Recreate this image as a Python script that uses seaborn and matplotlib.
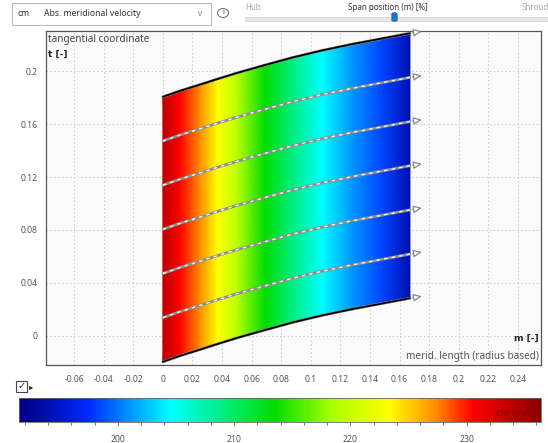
import numpy as np
import pandas as pd
import matplotlib
matplotlib.use("Agg")
import matplotlib.pyplot as plt
import matplotlib.patches as mpatches
from matplotlib.colors import LinearSegmentedColormap, Normalize
from matplotlib.ticker import FuncFormatter, MultipleLocator
import seaborn as sns

# ---------------- data ----------------
# meridional stations
m_st = [0.0, 0.0115, 0.025, 0.037, 0.05, 0.069, 0.088, 0.1075, 0.128, 0.149, 0.167]
# absolute meridional velocity cm [m/s] at each station
cm_st = [234.0, 230.6, 227.4, 223.4, 219.5, 213.5, 209.0, 204.5, 201.0, 198.2, 193.8]
# tangential coordinate of upper wall at each station
t_upper = [0.1805, 0.1850, 0.1897, 0.1940, 0.1985, 0.2045, 0.2103, 0.2155, 0.2203, 0.2247, 0.2285]
pitch = 0.2
n_streamlines = 7
# exit arrow position
m_exit = 0.177
t_exit_rise = 0.0018

x_ticks = [-0.06, -0.04, -0.02, 0, 0.02, 0.04, 0.06, 0.08, 0.1, 0.12, 0.14, 0.16, 0.18, 0.2, 0.22, 0.24]
y_ticks = [0, 0.04, 0.08, 0.12, 0.16, 0.2]
cbar_ticks = [200, 210, 220, 230]
cm_min, cm_max = 191.5, 236.4

# colormap
cmap_pos = [0.0, 0.13, 0.29, 0.49, 0.60, 0.71, 0.80, 0.87, 1.0]
cmap_col = ["#00007f", "#0028ff", "#00ffff", "#00dd00", "#aaff00", "#ffff00", "#ff8c00", "#ff0000", "#8c0000"]

# ---------------- style ----------------
sns.set_style("white")
plt.rcParams["font.family"] = ["Noto Sans", "DejaVu Sans"]

W, H = 548, 443
fig = plt.figure(figsize=(W / 100, H / 100), dpi=100)
fig.patch.set_facecolor("white")


def fx(x):
    return x / W


def fy(y):
    return 1 - y / H


cmap = LinearSegmentedColormap.from_list("cfx", list(zip(cmap_pos, cmap_col)))
norm = Normalize(vmin=cm_min, vmax=cm_max)

# ---------------- main axes ----------------
ax = fig.add_axes([fx(46), fy(365), fx(541) - fx(46), fy(31) - fy(365)])
ax.set_facecolor("#fbfbfb")
ax.set_xlim(-0.079, 0.2556)
ax.set_ylim(-0.0219, 0.2302)

m_arr = np.array(m_st)
t_up = np.array(t_upper)
X = np.vstack([m_arr, m_arr])
Y = np.vstack([t_up - pitch, t_up])
C = np.vstack([cm_st, cm_st])
mesh = ax.pcolormesh(X, Y, C, cmap=cmap, norm=norm, shading="gouraud", zorder=2)

# streamlines
for k in range(n_streamlines):
    tk = t_up - k * pitch / (n_streamlines - 1)
    df = pd.DataFrame({"m": m_st, "t": tk})
    sns.lineplot(data=df, x="m", y="t", ax=ax, sort=False, estimator=None,
                 color="#8f8f8f", lw=2.0, zorder=3)
    sns.lineplot(data=df, x="m", y="t", ax=ax, sort=False, estimator=None,
                 color="#f4f4f4", lw=1.0, dashes=False, zorder=4).lines[-1].set_dashes([2.5, 3])
    ax.annotate("", xy=(m_exit, tk[-1] + t_exit_rise), xytext=(m_st[-1], tk[-1]),
                arrowprops=dict(arrowstyle="-|>,head_length=0.5,head_width=0.22",
                                color="#8a8a8a", lw=0.9, fc="white"), zorder=5)

# walls
for off in (0.0, -pitch):
    df = pd.DataFrame({"m": m_st, "t": t_up + off})
    sns.lineplot(data=df, x="m", y="t", ax=ax, sort=False, estimator=None,
                 color="black", lw=1.3, zorder=6)

ax.set_xlabel("")
ax.set_ylabel("")
ax.set_xticks(x_ticks)
ax.set_yticks(y_ticks)
ax.xaxis.set_major_formatter(FuncFormatter(lambda v, p: "%g" % round(v, 3)))
ax.yaxis.set_major_formatter(FuncFormatter(lambda v, p: "%g" % round(v, 3)))
ax.xaxis.set_minor_locator(MultipleLocator(0.01))
ax.yaxis.set_minor_locator(MultipleLocator(0.02))
ax.tick_params(axis="both", which="major", direction="inout", length=4, width=0.7,
               colors="#555555", labelsize=6.2, labelcolor="#555555")
ax.tick_params(axis="both", which="minor", direction="in", length=2, width=0.6, colors="#666666")
ax.tick_params(axis="x", pad=5)
ax.tick_params(axis="y", pad=4)
ax.grid(True, which="major", color="#cfcfcf", linestyle=(0, (1.5, 2)), lw=0.8, zorder=1)
ax.set_axisbelow(True)
for s in ax.spines.values():
    s.set_color("#555555")
    s.set_linewidth(0.9)

ax.text(0.005, 0.99, "tangential coordinate", transform=ax.transAxes, ha="left", va="top",
        fontsize=7.2, color="#444444")
ax.text(0.005, 0.943, "t [-]", transform=ax.transAxes, ha="left", va="top",
        fontsize=6.6, color="#222222", fontweight="bold", family=["DejaVu Sans"])
ax.text(0.995, 0.065, "m [-]", transform=ax.transAxes, ha="right", va="bottom",
        fontsize=6.6, color="#222222", fontweight="bold", family=["DejaVu Sans"])
ax.text(0.995, 0.01, "merid. length (radius based)", transform=ax.transAxes, ha="right",
        va="bottom", fontsize=7.2, color="#555555")

# ---------------- colour bar ----------------
cax = fig.add_axes([fx(19), fy(422), fx(541) - fx(19), fy(398) - fy(422)])
cb = fig.colorbar(mesh, cax=cax, orientation="horizontal")
cb.set_ticks(cbar_ticks)
cb.ax.xaxis.set_minor_locator(MultipleLocator(2))
cb.ax.tick_params(which="major", length=3, width=0.6, colors="#666666", labelsize=6.2,
                  labelcolor="#555555", pad=6)
cb.ax.tick_params(which="minor", length=2, width=0.6, colors="#666666")
cb.outline.set_edgecolor("#666666")
cb.outline.set_linewidth(0.6)
cax.text(0.99, 0.2, "cm [m/s]", transform=cax.transAxes, ha="right", va="bottom",
         fontsize=7, color="#7a0000", alpha=0.8)

# ---------------- UI decorations ----------------
fig.patches.append(mpatches.Rectangle((fx(12), fy(25)), fx(211) - fx(12), fy(3) - fy(25),
                                      transform=fig.transFigure, fc="white", ec="#b5b5b5", lw=0.7))
fig.text(fx(17), fy(13), "cm", fontsize=6.2, color="#333333", va="center")
fig.text(fx(44), fy(13), "Abs. meridional velocity", fontsize=6.2, color="#333333", va="center")
fig.text(fx(200), fy(13), "v", fontsize=6, color="#888888", va="center", ha="center")
fig.patches.append(mpatches.Circle((fx(223), fy(13)), 5.5 / W, transform=fig.transFigure,
                                   fc="none", ec="#666666", lw=0.7))
fig.text(fx(223), fy(13), "i", fontsize=5.5, color="#444444", va="center", ha="center")
fig.text(fx(245), fy(7), "Hub", fontsize=5.8, color="#aaaaaa", va="center")
fig.text(fx(388), fy(7), "Span position (m) [%]", fontsize=5.8, color="#333333",
         va="center", ha="center")
fig.text(fx(522), fy(7), "Shroud", fontsize=5.8, color="#aaaaaa", va="center")
fig.patches.append(mpatches.Rectangle((fx(245), fy(21)), fx(548) - fx(245), fy(17) - fy(21),
                                      transform=fig.transFigure, fc="#e6e6e6", ec="#d0d0d0", lw=0.5))
fig.patches.append(mpatches.FancyBboxPatch((fx(392), fy(21)), fx(397) - fx(392), fy(13) - fy(21),
                                           boxstyle="round,pad=0,rounding_size=0.003",
                                           transform=fig.transFigure, fc="#1f6fc5", ec="#1f6fc5"))

# checkbox icon
fig.patches.append(mpatches.Rectangle((fx(16), fy(392)), fx(27) - fx(16), fy(381) - fy(392),
                                      transform=fig.transFigure, fc="white", ec="#444444", lw=0.8))
fig.text(fx(21.5), fy(386.5), "\u2713", fontsize=7, color="#222222", va="center", ha="center",
         family=["DejaVu Sans"])
fig.text(fx(29), fy(387), "\u25b8", fontsize=6, color="#222222", va="center", ha="left",
         family=["DejaVu Sans"])

fig.savefig("out.png", dpi=100)
